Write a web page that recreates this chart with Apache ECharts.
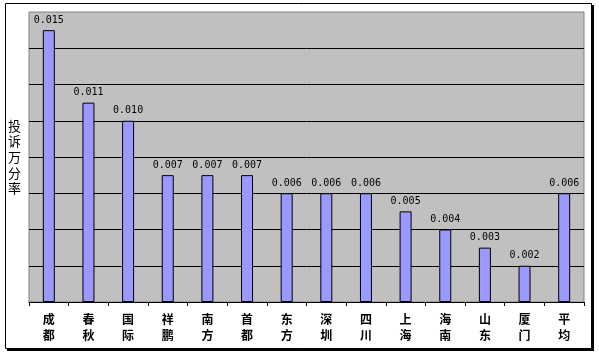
<!DOCTYPE html>
<html><head><meta charset="utf-8">
<script src="https://cdn.jsdelivr.net/npm/echarts@6/dist/echarts.min.js"></script>
<style>html,body{margin:0;padding:0;background:#fff}#c{width:599px;height:355px}</style>
</head><body><div id="c"></div>
<script>
const categories = ['成都','春秋','国际','祥鹏','南方','首都','东方','深圳','四川','上海','海南','山东','厦门','平均'];
const values = [0.015,0.011,0.010,0.007,0.007,0.007,0.006,0.006,0.006,0.005,0.004,0.003,0.002,0.006];
const yMin = 0, yMax = 0.016, yInterval = 0.002;
const yName = '投诉万分率';

const chart = echarts.init(document.getElementById('c'));
chart.setOption({
  animation: false,
  backgroundColor: '#fff',
  graphic: [
    {type:'rect', shape:{x:7,y:5,width:587,height:346}, style:{fill:'#000'}, z:-10},
    {type:'rect', shape:{x:5.5,y:3.5,width:586,height:345}, style:{fill:'#fff',stroke:'#000',lineWidth:1}, z:-9}
  ],
  grid: {left:29, right:15, top:12, bottom:53, show:true, backgroundColor:'#c0c0c0', borderColor:'#808080', borderWidth:1, z:0},
  xAxis: {
    type:'category', data: categories,
    axisLine:{lineStyle:{color:'#000',width:1}},
    axisTick:{show:true, alignWithLabel:false, length:4, lineStyle:{color:'#000'}},
    axisLabel:{interval:0, margin:9, fontSize:12, fontWeight:'bold', color:'#000', lineHeight:16,
      fontFamily:'Noto Sans CJK SC', formatter: v => v.split('').join('\n')}
  },
  yAxis: {
    type:'value', min:yMin, max:yMax, interval:yInterval,
    name: yName.split('').join('\n'), nameLocation:'middle', nameGap:8, nameRotate:0,
    nameTextStyle:{fontSize:13, color:'#000', lineHeight:15.6, fontFamily:'Noto Sans CJK SC', padding:[0,0,22,0]},
    axisLine:{show:false}, axisTick:{show:false}, axisLabel:{show:false},
    splitLine:{show:true, showMaxLine:false, lineStyle:{color:'#000', width:1}}
  },
  series: [{
    type:'bar', data: values, barWidth:12,
    itemStyle:{color:'#9999ff', borderColor:'#000', borderWidth:1},
    label:{show:true, position:'top', distance:5, fontSize:10, color:'#000',
      fontFamily:'DejaVu Sans Mono', formatter: p => p.value.toFixed(3)}
  }]
});
</script></body></html>
